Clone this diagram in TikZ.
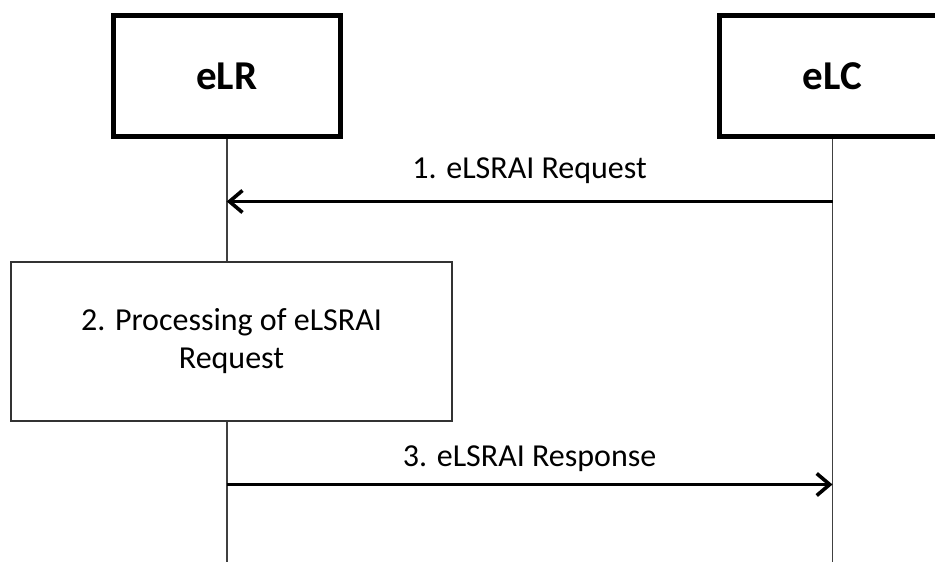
\documentclass[tikz,border=0pt]{standalone}
\usepackage{fontspec}
\setmainfont{Carlito}
\usetikzlibrary{arrows.meta}
\begin{document}
\begin{tikzpicture}[x=1pt,y=-1pt,
  actor/.style={draw=black,line width=5pt,minimum width=227pt,minimum height=121pt,inner sep=0pt,font=\fontsize{41}{41}\selectfont\bfseries},
  procbox/.style={draw=black!80,line width=1.3pt,minimum width=441pt,minimum height=159pt,inner sep=0pt,align=center,font=\fontsize{32}{38}\selectfont},
  life/.style={draw=black!75,line width=1.6pt},
  msg/.style={line width=3.6pt,-{Straight Barb[length=13pt,width=22pt,line width=3.6pt]}},
  lbl/.style={font=\fontsize{32}{38}\selectfont,inner sep=0pt,anchor=base}]
\useasboundingbox (0,0) rectangle (935,562);
\coordinate (lrbot) at (226.7,562);
\coordinate (lcbot) at (832.5,562);
\node[actor] (lr) at (226.7,76) {eLR};
\node[actor] (lc) at (832.5,76) {eLC};
\draw[life] (lr.south) -- (lrbot);
\draw[life] (lc.south) -- (lcbot);
\node[procbox,fill=white] (proc) at (231.5,341.5) {2. Processing of eLSRAI\\Request};
\coordinate (a1s) at (832.5,201.5);
\coordinate (a1e) at (226.7,201.5);
\draw[msg] (a1s) -- (a1e);
\node[lbl] (l1) at (529.6,178) {1. eLSRAI Request};
\coordinate (a3s) at (226.7,484.5);
\coordinate (a3e) at (832.5,484.5);
\draw[msg] (a3s) -- (a3e);
\node[lbl] (l3) at (529.6,466) {3. eLSRAI Response};
\end{tikzpicture}
\end{document}
